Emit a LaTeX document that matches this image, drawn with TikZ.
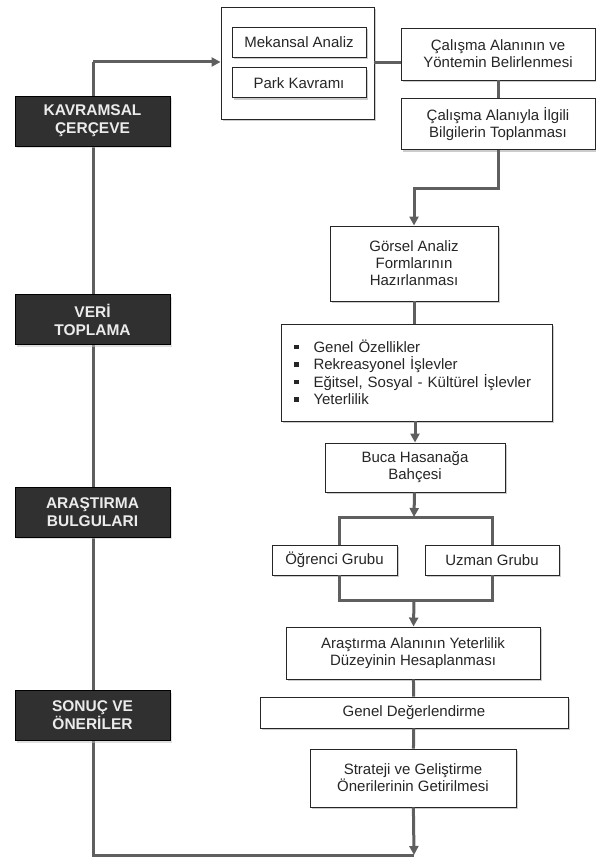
\documentclass[tikz,border=0pt]{standalone}
\usepackage{fontspec}
\setmainfont{Liberation Sans}
\usetikzlibrary{arrows.meta,positioning,calc,shadows}
\definecolor{mygray}{RGB}{95,95,95}
\definecolor{mydark}{RGB}{48,48,48}
\newcommand{\sqbul}{\raisebox{3pt}{\rule{4.5pt}{4.5pt}}\hspace{15pt}}
\tikzset{
    link/.style  = {line width=3pt, draw=mygray},
    line/.style  = {link, -{Triangle[length=9pt,width=9pt]}},
    block/.style = {draw=black!85, line width=0.9pt, fill=white,
            align=center, inner sep=0pt, text=black!85,
            font=\fontsize{15}{17}\selectfont,
            drop shadow={shadow xshift=2pt, shadow yshift=-2pt, fill=black!40}},
    phase/.style = {fill=mydark, draw=black, text=white!92!black, align=center,
            minimum width=155pt, minimum height=50pt, inner sep=0pt,
            font=\bfseries\fontsize{15.5}{18}\selectfont,
            drop shadow={shadow xshift=2pt, shadow yshift=-2pt, fill=black!25}},
}

\begin{document}
\begin{tikzpicture}[x=1pt,y=-1pt]
    \useasboundingbox (0,0) rectangle (596,858);
    % loop line on the left
    \coordinate (topL) at (93,62);
    \coordinate (bot) at (414,855);
    \draw[link] (bot) -| (topL);

    % Phases
    \node[phase] at (92.5,121) (kavram) {KAVRAMSAL\\ÇERÇEVE};
    \node[phase] at (92.5,319.5) (veri) {VERİ\\TOPLAMA};
    \node[phase] at (92.5,512) (bulgu) {ARAŞTIRMA\\BULGULARI};
    \node[phase] at (92.5,715.5) (sonuc) {SONUÇ VE\\ÖNERİLER};

    % Nodes
    \node[block, minimum width=153pt, minimum height=112pt] at (297.5,63) (cerceve) {};
    \node[block, minimum width=134pt, minimum height=30pt] at (299,42) (mekan) {Mekansal Analiz};
    \node[block, minimum width=134pt, minimum height=30pt, below=10pt of mekan] (park) {Park Kavramı};
    \node[block, minimum width=194pt, minimum height=52pt] at (498,54) (belirle) {Çalışma Alanının ve\\Yöntemin Belirlenmesi};
    \node[block, minimum width=194pt, minimum height=51pt, below=18pt of belirle] (bilgi) {Çalışma Alanıyla İlgili\\Bilgilerin Toplanması};
    \node[block, minimum width=168pt, minimum height=75pt] at (414,263.5) (form) {Görsel Analiz\\Formlarının\\Hazırlanması};
    \node[block, minimum width=271pt, minimum height=97pt, align=left, text width=245pt,
          font=\fontsize{15}{17.5}\selectfont] at (416.5,372.5) (ozellik)
        {\sqbul Genel Özellikler\\ \sqbul Rekreasyonel İşlevler\\
         \sqbul Eğitsel, Sosyal - Kültürel İşlevler\\ \sqbul Yeterlilik};
    \node[block, minimum width=180pt, minimum height=49pt] at (415,467.5) (buca) {Buca Hasanağa\\Bahçesi};
    \node[block, minimum width=125pt, minimum height=30pt] at (334.5,560) (ogrenci) {Öğrenci Grubu};
    \node[block, minimum width=134pt, minimum height=30pt] at (492,560) (uzman) {Uzman Grubu};
    \node[block, minimum width=254pt, minimum height=52pt] at (413,653) (hesap) {Araştırma Alanının Yeterlilik\\Düzeyinin Hesaplanması};
    \node[block, minimum width=308pt, minimum height=31pt] at (414,712.5) (genel) {Genel Değerlendirme};
    \node[block, minimum width=206pt, minimum height=58pt] at (413,778) (strateji) {Strateji ve Geliştirme\\Önerilerinin Getirilmesi};
    \coordinate (split) at (414,517);
    \coordinate (join) at (414,600);

    % Arrows
    \draw[line] (topL) -- (cerceve.west |- topL);
    \draw[link] (cerceve.east) -- (cerceve.east -| belirle.west);
    \draw[link] (belirle) -- (bilgi);
    \draw[line] (bilgi.south) -- ++(0,38) -| (form.north);
    \draw[link] (form) -- (form |- ozellik.north);
    \draw[line] (buca.north |- ozellik.south) -- (buca.north);
    \draw[line] (buca) -- (split);
    \draw[link] ([xshift=5pt]ogrenci.north) |- (split) -| (uzman.north);
    \draw[link] ([xshift=5pt]ogrenci.south) |- (join) -| (uzman.south);
    \draw[line] (join) -- (hesap);
    \draw[link] (hesap) -- (genel);
    \draw[link] (genel) -- (strateji);
    \draw[line] (strateji) -- (bot);
\end{tikzpicture}
\end{document}
